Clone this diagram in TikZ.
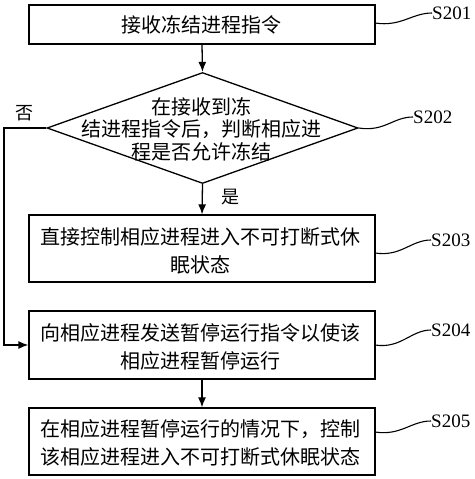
\documentclass[tikz,border=0pt]{standalone}
\usepackage{fontspec}
\setmainfont{Liberation Serif}
\newfontfamily\cjk{Noto Sans CJK SC}
\usetikzlibrary{arrows.meta,shapes.geometric}
\tikzset{
  box/.style={draw, rectangle, minimum width=346pt, inner sep=0pt, line width=1.3pt},
  dia/.style={draw, diamond, minimum width=311pt, minimum height=111pt, inner sep=0pt, line width=1.3pt},
  txt/.style={align=center, inner sep=0pt, font=\cjk\fontsize{20}{28}\selectfont},
  dtxt/.style={align=center, inner sep=0pt, font=\cjk\fontsize{20}{22.5}\selectfont},
  arr/.style={-{Latex[length=10pt,width=8pt]}, line width=1.3pt},
  sq/.style={line width=1.1pt},
  lab/.style={anchor=west, inner sep=0pt, font=\fontsize{19}{19}\selectfont},
  yn/.style={inner sep=0pt, font=\cjk\fontsize{18}{18}\selectfont}
}
\begin{document}
\begin{tikzpicture}[x=1pt,y=-1pt]
\useasboundingbox (0,0) rectangle (474,479);
% boxes
\node[box, minimum height=39pt] (b1) at (202,24.5) {};
\node[txt] (t1) at (201,24.5) {接收冻结进程指令};
\node[dia] (d) at (202.5,128) {};
\node[dtxt] (dt) at (201,129) {在接收到冻\\结进程指令后，判断相应进\\程是否允许冻结};
\node[box, minimum height=67pt] (b3) at (202,248.5) {};
\node[txt] (t3) at (200,251) {直接控制相应进程进入不可打断式休\\眠状态};
\node[box, minimum height=68pt] (b4) at (202,345) {};
\node[txt] (t4) at (200,347) {向相应进程发送暂停运行指令以使该\\相应进程暂停运行};
\node[box, minimum height=67pt] (b5) at (202,441.5) {};
\node[txt] (t5) at (200,443) {在相应进程暂停运行的情况下，控制\\该相应进程进入不可打断式休眠状态};
% connectors
\draw[arr] (b1.south) -- (d.north);
\draw[arr] (d.south) -- (b3.north);
\draw[arr] (b4.south) -- (b5.north);
\coordinate (nl) at (4,128);
\draw[arr] (d.west) -- (nl) |- (b4.west);
\node[yn] (no) at (25,113) {否};
\node[yn] (yes) at (230,197) {是};
% step labels
\node[lab] (s1) at (432,13) {S201};
\node[lab] (s2) at (413,117) {S202};
\node[lab] (s3) at (431,240) {S203};
\node[lab] (s4) at (431,330) {S204};
\node[lab] (s5) at (431,421) {S205};
\coordinate (e1) at (375,23);
\coordinate (e3) at (375,253);
\coordinate (e4) at (375,345);
\coordinate (e5) at (375,432);
\draw[sq] (e1) .. controls +(26,4) and +(-20,0) .. (s1.west);
\draw[sq] (d.east) .. controls +(26,4) and +(-20,0) .. (s2.west);
\draw[sq] (e3) .. controls +(26,4) and +(-20,0) .. (s3.west);
\draw[sq] (e4) .. controls +(26,4) and +(-20,0) .. (s4.west);
\draw[sq] (e5) .. controls +(26,4) and +(-20,0) .. (s5.west);
\end{tikzpicture}
\end{document}
